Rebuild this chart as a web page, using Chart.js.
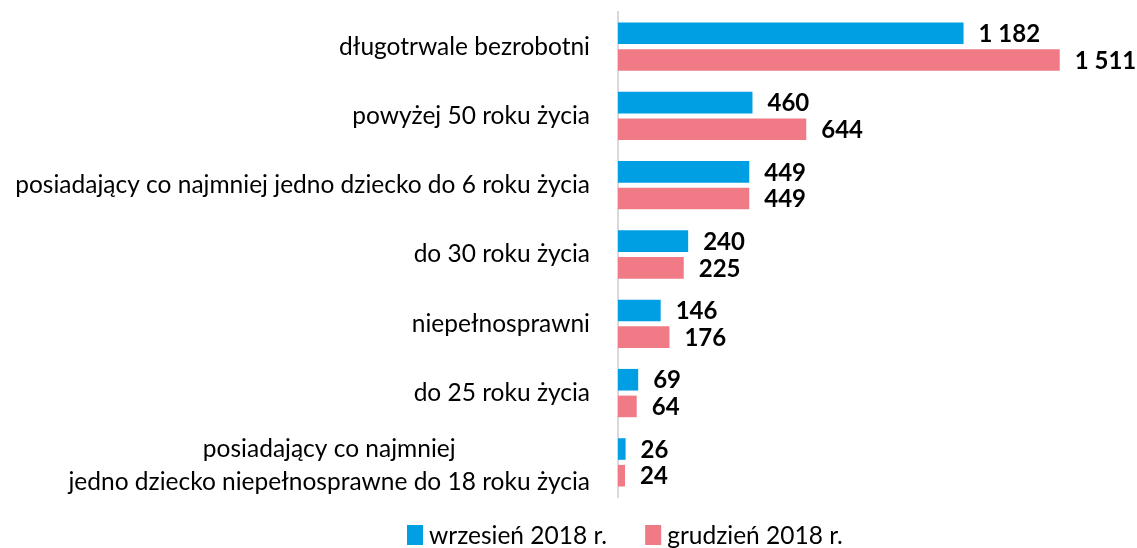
<!DOCTYPE html>
<html>
<head>
<meta charset="utf-8">
<script src="https://cdn.jsdelivr.net/npm/chart.js@4"></script>
<style>
  html, body { margin: 0; padding: 0; background: #fff; }
  #wrap { width: 1137px; height: 548px; }
</style>
</head>
<body>
<div id="wrap"><canvas id="unemployChart"></canvas></div>
<script>
const categories = [
    'długotrwale bezrobotni',
    'powyżej 50 roku życia',
    'posiadający co najmniej jedno dziecko do 6 roku życia',
    'do 30 roku życia',
    'niepełnosprawni',
    'do 25 roku życia',
    ['posiadający co najmniej', 'jedno dziecko niepełnosprawne do 18 roku życia']
];
const wrzesien = [1182, 460, 449, 240, 146, 69, 26];
const grudzien = [1511, 644, 449, 225, 176, 64, 24];
const seriesNames = ['wrzesień 2018 r.', 'grudzień 2018 r.'];

const FONT = 'Lato, Calibri, Carlito, sans-serif';
const LABEL_SIZE = 24.5;

function fmt(v) {
    return String(v).replace(/\B(?=(\d{3})+(?!\d))/g, ' ');
}

// value labels at the bar ends
const valueLabels = {
    id: 'valueLabels',
    afterDatasetsDraw(chart) {
        const ctx = chart.ctx;
        ctx.save();
        ctx.font = 'bold 24px ' + FONT;
        ctx.fillStyle = '#000';
        ctx.textAlign = 'left';
        ctx.textBaseline = 'middle';
        chart.data.datasets.forEach((ds, i) => {
            chart.getDatasetMeta(i).data.forEach((bar, j) => {
                ctx.fillText(fmt(ds.data[j]), bar.x + 15, bar.y + 1);
            });
        });
        ctx.restore();
    }
};

// two-line label: lines centred on each other, block right-aligned
const multiLineLabel = {
    id: 'multiLineLabel',
    afterDraw(chart) {
        const scale = chart.scales.y;
        const ctx = chart.ctx;
        ctx.save();
        ctx.font = LABEL_SIZE + 'px ' + FONT;
        ctx.fillStyle = '#000';
        ctx.textBaseline = 'middle';
        ctx.textAlign = 'center';
        categories.forEach((lab, i) => {
            if (!Array.isArray(lab)) return;
            const right = scale.right - 28;
            const maxW = Math.max(...lab.map(l => ctx.measureText(l).width));
            const cx = right - maxW / 2;
            const y = scale.getPixelForTick(i) + 3;
            const lh = 33;
            lab.forEach((l, k) => {
                ctx.fillText(l, cx, y + (k - (lab.length - 1) / 2) * lh);
            });
        });
        ctx.restore();
    }
};

// legend drawn by hand so the item spacing matches
const bottomLegend = {
    id: 'bottomLegend',
    afterDraw(chart) {
        const ctx = chart.ctx;
        ctx.save();
        ctx.font = '24.5px ' + FONT;
        ctx.textBaseline = 'middle';
        ctx.textAlign = 'left';
        let x = 407;
        const y = 536;
        chart.data.datasets.forEach(ds => {
            ctx.fillStyle = ds.backgroundColor;
            ctx.fillRect(x, 525, 16, 20);
            ctx.fillStyle = '#000';
            ctx.fillText(ds.label, x + 22, y);
            x += 22 + ctx.measureText(ds.label).width + 38;
        });
        ctx.restore();
    }
};

const ctx = document.getElementById('unemployChart').getContext('2d');
new Chart(ctx, {
    type: 'bar',
    data: {
        labels: categories,
        datasets: [
            { label: seriesNames[0], data: wrzesien, backgroundColor: '#009FE3' },
            { label: seriesNames[1], data: grudzien, backgroundColor: '#F07B86' }
        ]
    },
    options: {
        indexAxis: 'y',
        responsive: true,
        maintainAspectRatio: false,
        animation: false,
        categoryPercentage: 0.77,
        barPercentage: 0.81,
        layout: { padding: { top: 12, right: 22, bottom: 51, left: 0 } },
        plugins: {
            legend: { display: false },
            tooltip: { enabled: false },
            title: { display: false }
        },
        scales: {
            x: {
                min: 0,
                max: 1700,
                display: false,
                grid: { display: false }
            },
            y: {
                grid: { display: false, drawTicks: false },
                border: { display: true, color: '#D9D9D9', width: 2 },
                afterFit(scale) {
                    scale.width = 618;
                    scale.paddingTop = 0;
                    scale.paddingBottom = 0;
                },
                ticks: {
                    padding: 28,
                    font: { family: FONT, size: LABEL_SIZE, lineHeight: 1 },
                    color: '#000',
                    callback: (v, i) => Array.isArray(categories[i]) ? '' : categories[i]
                }
            }
        }
    },
    plugins: [valueLabels, multiLineLabel, bottomLegend]
});
</script>
</body>
</html>
